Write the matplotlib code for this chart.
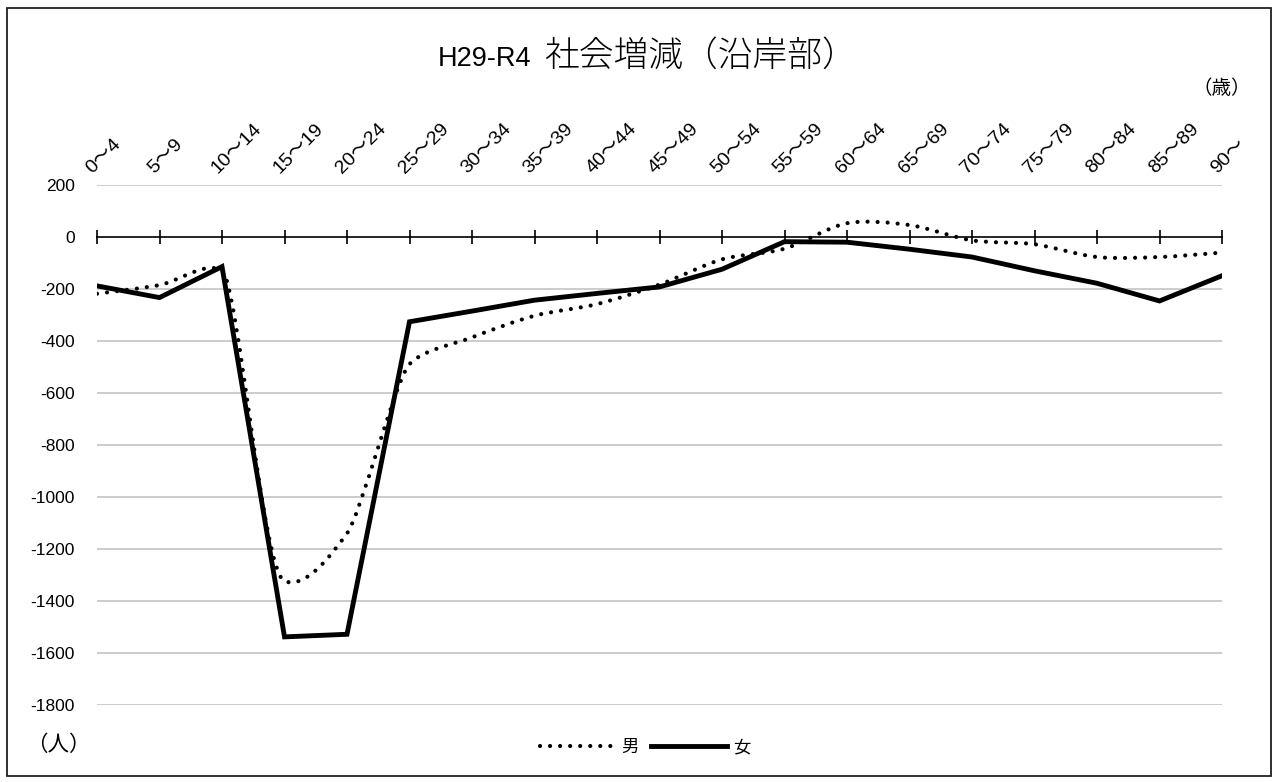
import numpy as np
import matplotlib
matplotlib.use("Agg")
import matplotlib.pyplot as plt
import matplotlib.transforms as mtransforms
from matplotlib.path import Path
from matplotlib.patches import PathPatch, Rectangle
from matplotlib.lines import Line2D

plt.rcParams['font.family'] = ['Liberation Sans', 'Noto Sans CJK JP', 'DejaVu Sans']
CJK = ['Noto Sans CJK JP', 'DejaVu Sans']

# -----------------------------------------------------------
# DATA
# -----------------------------------------------------------
age_groups = ["0～4", "5～9", "10～14", "15～19", "20～24", "25～29", "30～34",
              "35～39", "40～44", "45～49", "50～54", "55～59", "60～64",
              "65～69", "70～74", "75～79", "80～84", "85～89", "90～"]

male = [-218, -185, -130, -1324, -1140, -489, -386, -303, -258, -183,
        -86, -45, 53, 46, -13, -28, -77, -77, -60]

female = [-188, -233, -114, -1538, -1528, -326, -285, -243, -217, -192,
          -124, -18, -20, -47, -77, -130, -178, -246, -149]

yticks = list(range(-1800, 201, 200))

title_latin = "H29-R4"
title_jp = "社会増減（沿岸部）"

# -----------------------------------------------------------
# SMOOTHED PATH (Excel-like smoothed line, cubic bezier)
# tangents built in screen space; arm length limited by the
# shorter neighbouring segment so long drops stay straight
# -----------------------------------------------------------
def smooth_path(xs, ys, sx, sy, k=0.3):
    pts = np.column_stack([np.asarray(xs) * sx, np.asarray(ys) * sy]).astype(float)
    n = len(pts)

    def unit(v):
        d = np.hypot(*v)
        return v / d if d > 0 else v

    seg = [np.hypot(*(pts[i + 1] - pts[i])) for i in range(n - 1)]

    tang = []
    for i in range(n):
        if i == 0:
            t = unit(pts[1] - pts[0])
        elif i == n - 1:
            t = unit(pts[-1] - pts[-2])
        else:
            t = unit(unit(pts[i] - pts[i - 1]) + unit(pts[i + 1] - pts[i]))
        tang.append(t)

    verts = [pts[0]]
    codes = [Path.MOVETO]
    for i in range(n - 1):
        left = seg[i - 1] if i > 0 else seg[i]
        right = seg[i + 1] if i + 1 < n - 1 else seg[i]
        a1 = k * min(seg[i], left)
        a2 = k * min(seg[i], right)
        c1 = pts[i] + tang[i] * a1
        c2 = pts[i + 1] - tang[i + 1] * a2
        verts += [c1, c2, pts[i + 1]]
        codes += [Path.CURVE4] * 3
    verts = np.array(verts) / np.array([sx, sy])
    return Path(verts, codes)

# -----------------------------------------------------------
# FIGURE
# -----------------------------------------------------------
W, H = 1277, 782
fig = plt.figure(figsize=(W / 100, H / 100), dpi=100)
ax = fig.add_axes([97 / W, 1 - 705 / H, (1222 - 97) / W, (705 - 185) / H])

x = np.arange(len(age_groups))

ax.set_xlim(x[0], x[-1])
ax.set_ylim(-1800, 200)
ax.set_yticks(yticks)
ax.set_yticklabels([str(v) for v in yticks], fontsize=12.5)
ax.tick_params(axis='y', length=0, pad=16)

for v in yticks:
    if v != 0:
        ax.axhline(v, color='#bfbfbf', lw=1.1, zorder=1)

for s in ['top', 'right', 'left']:
    ax.spines[s].set_visible(False)
ax.spines['bottom'].set_position(('data', 0))
ax.spines['bottom'].set_linewidth(1.2)
ax.spines['bottom'].set_zorder(2)
ax.set_xticks(x)
ax.tick_params(axis='x', direction='inout', length=9.5, width=1.2, labelbottom=False)

# category labels at top, rotated
trans = mtransforms.blended_transform_factory(ax.transData, ax.transAxes)
trans = mtransforms.offset_copy(trans, fig=fig, x=-2, y=8, units='dots')
for xi, lab in zip(x, age_groups):
    ax.text(xi, 1.0, lab, transform=trans, rotation=45, rotation_mode='anchor',
            ha='left', va='bottom', fontsize=14)

# series
ax.plot(x, female, color='black', lw=3.5, solid_joinstyle='miter', zorder=4)
px_x = (1222 - 97) / (x[-1] - x[0])
px_y = (705 - 185) / 2000.0
male_patch = PathPatch(smooth_path(x, male, px_x, px_y), fill=False, edgecolor='black',
                       lw=3.0, linestyle=(0, (0.01, 2.4)), capstyle='round', zorder=3)
ax.add_patch(male_patch)

# title and units
fig.text(531 / W, 1 - 66 / H, title_latin, ha='right', va='baseline', fontsize=19.5)
fig.text(544 / W, 1 - 66 / H, title_jp, ha='left', va='baseline', fontsize=25,
         family=CJK, fontweight='light')
fig.text(1222 / W, 1 - 89 / H, "（歳）", ha='center', va='center', fontsize=14, family=CJK)
fig.text(58 / W, 1 - 745 / H, "（人）", ha='center', va='center', fontsize=15.5, family=CJK)

# legend
handles = [Line2D([], [], color='black', lw=3.0, linestyle=(0, (0.01, 2.4)),
                  dash_capstyle='round'),
           Line2D([], [], color='black', lw=3.5)]
leg = fig.legend(handles, ["男", "女"], loc='center', bbox_to_anchor=(645 / W, 1 - 747 / H),
                 ncol=2, frameon=False, handlelength=4.4, handletextpad=0.3,
                 columnspacing=0.7, prop={'family': CJK, 'size': 12.5})

# outer frame
fig.patches.append(Rectangle((7 / W, 1 - 776 / H), (1271 - 7) / W, (776 - 8) / H,
                             transform=fig.transFigure, fill=False,
                             edgecolor='#202020', lw=1.3))

fig.savefig("out.png", dpi=100)
